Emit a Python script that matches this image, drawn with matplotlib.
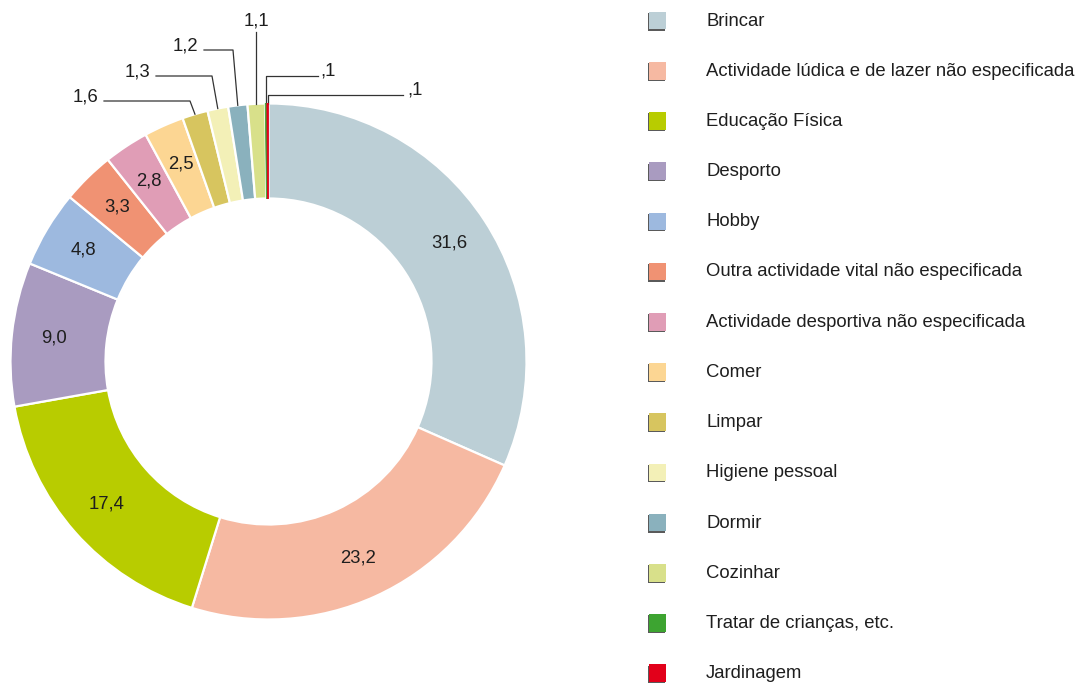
import numpy as np
import matplotlib
matplotlib.use("Agg")
import matplotlib.pyplot as plt
from matplotlib.patches import Rectangle

categories = ["Brincar", "Actividade lúdica e de lazer não especificada", "Educação Física",
              "Desporto", "Hobby", "Outra actividade vital não especificada",
              "Actividade desportiva não especificada", "Comer", "Limpar", "Higiene pessoal",
              "Dormir", "Cozinhar", "Tratar de crianças, etc.", "Jardinagem"]
values = [31.6, 23.2, 17.4, 9.0, 4.8, 3.3, 2.8, 2.5, 1.6, 1.3, 1.2, 1.1, 0.1, 0.1]
value_labels = ["31,6", "23,2", "17,4", "9,0", "4,8", "3,3", "2,8", "2,5",
                "1,6", "1,3", "1,2", "1,1", ",1", ",1"]
colors = ["#bccfd6", "#f6b9a2", "#b8cc00", "#a99bc0", "#9db9df", "#f09273", "#e09db6",
          "#fcd693", "#d7c55f", "#f3f0b7", "#8ab1bd", "#d8e08a", "#3da431", "#e2001a"]

FONT = "Liberation Sans"
TXT = "#1e1e1e"
W, H = 1076, 684
fig = plt.figure(figsize=(W / 100, H / 100), dpi=100)
ax = fig.add_axes([0, 0, 1, 1])

cx, cy = 268.5, H - 361.5
R, width = 258, 95

wedges, _ = ax.pie(values, colors=colors, startangle=90, counterclock=False,
                   radius=R, center=(cx, cy),
                   wedgeprops=dict(width=width, edgecolor="white", linewidth=1.6))
# the two tiny slices are drawn on top without white edges so they stay visible
for w in wedges[-2:]:
    w.set_edgecolor(w.get_facecolor())
    w.set_linewidth(0.6)
    w.set_zorder(5)
ax.set_xlim(0, W)
ax.set_ylim(0, H)
ax.set_aspect("equal")
ax.axis("off")

total = sum(values)
cum = np.cumsum(values) - np.array(values) / 2
angles = np.deg2rad(90 - cum / total * 360)

FS = 13.3
# inside labels for large slices
rmid = 216
for i in range(8):
    x = cx + rmid * np.cos(angles[i])
    y = cy + rmid * np.sin(angles[i])
    ax.text(x, y, value_labels[i], ha="center", va="center", fontsize=FS,
            family=FONT, color=TXT)

# outside labels with leader lines (elbow y, elbow x in pixels; text side)
leaders = {
    8: dict(ey=101, ex=190, tx=98, side="left"),
    9: dict(ey=76, ex=212, tx=150, side="left"),
    10: dict(ey=50, ex=233, tx=198, side="left"),
    11: dict(ey=32, ex=None, tx=None, side="top"),
    12: dict(ey=76, ex=318, tx=320, side="right"),
    13: dict(ey=95, ex=403, tx=407, side="right"),
}
for i, d in leaders.items():
    ax_x = cx + R * np.cos(angles[i])
    ax_y = cy + R * np.sin(angles[i])
    ey = H - d["ey"]
    if d["side"] == "top":
        ax.plot([ax_x, ax_x], [ax_y, ey], color="#333333", lw=0.9)
        ax.text(ax_x, ey + 3, value_labels[i], ha="center", va="bottom",
                fontsize=FS, family=FONT, color=TXT)
    elif d["side"] == "left":
        ax.plot([ax_x, d["ex"], d["tx"] + 6],
                [ax_y, ey, ey], color="#333333", lw=0.9)
        ax.text(d["tx"], ey + 4, value_labels[i], ha="right", va="center",
                fontsize=FS, family=FONT, color=TXT)
    else:
        ax.plot([ax_x, ax_x, d["ex"]], [ax_y, ey, ey], color="#333333", lw=0.9)
        ax.text(d["tx"], ey + 5, value_labels[i], ha="left", va="center",
                fontsize=FS, family=FONT, color=TXT)

# legend
for k, (name, col) in enumerate(zip(categories, colors)):
    yc = H - (21 + 50.2 * k)
    ax.add_patch(Rectangle((648, yc - 9.5), 17, 17.5, facecolor="#5a5a5a",
                           edgecolor="none", zorder=2))
    ax.add_patch(Rectangle((649.2, yc - 8.3), 17, 17.5, facecolor=col,
                           edgecolor="none", zorder=3))
    ax.text(706, yc, name, ha="left", va="center", fontsize=FS,
            family=FONT, color=TXT)

fig.savefig("out.png", dpi=100)
